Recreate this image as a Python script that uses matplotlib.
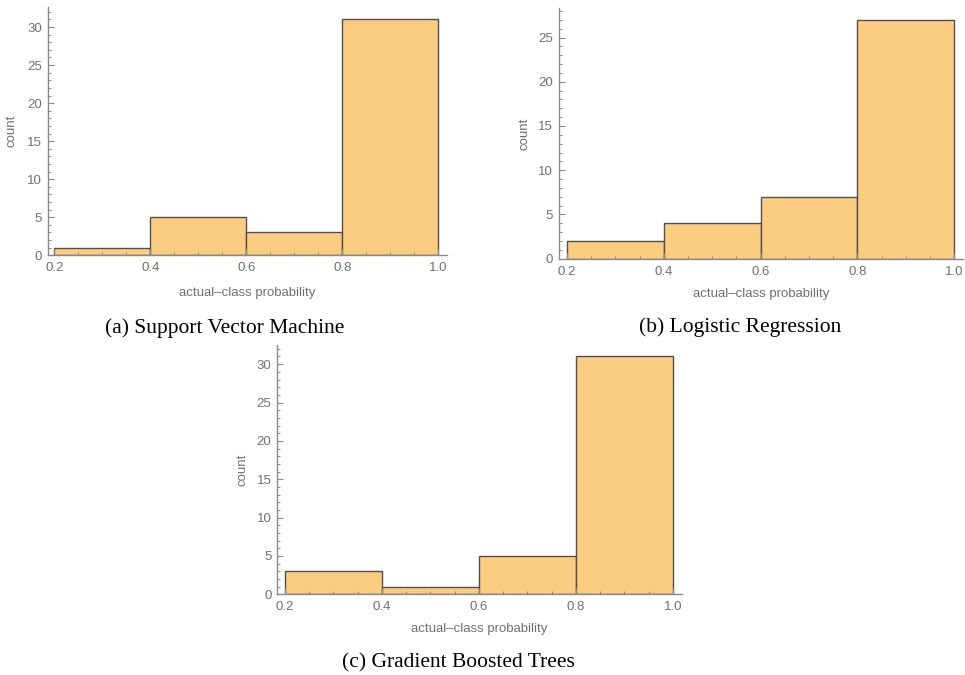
import matplotlib
matplotlib.use("Agg")
import matplotlib.pyplot as plt
from matplotlib.ticker import MultipleLocator, FixedLocator
from matplotlib.transforms import ScaledTranslation
import numpy as np

bin_edges = [0.2, 0.4, 0.6, 0.8, 1.0]
svm_counts = [1, 5, 3, 31]
logreg_counts = [2, 4, 7, 27]
gbt_counts = [3, 1, 5, 31]
x_ticks = [0.2, 0.4, 0.6, 0.8, 1.0]
x_tick_labels = ["0.2", "0.4", "0.6", "0.8", "1.0"]
captions = ["(a) Support Vector Machine", "(b) Logistic Regression", "(c) Gradient Boosted Trees"]

FILL = "#fbcd80"
EDGE = "#505050"
AXC = "#8a8a8a"
TXT = "#707070"

fig = plt.figure(figsize=(9.65, 6.75), dpi=100)

panels = [
    # rect, counts, xlim, ylim, ymajor, xlabel offset px, ylabel offset px
    ([0.0494, 0.6218, 0.4135, 0.3674], svm_counts, (0.186, 1.0175), (0, 32.6), 5, 38, 36),
    ([0.5790, 0.6167, 0.4187, 0.3710], logreg_counts, (0.1828, 1.018), (0, 28.3), 5, 35, 34),
    ([0.2870, 0.1196, 0.4194, 0.3693], gbt_counts, (0.1835, 1.018), (0, 32.5), 5, 35, 34),
]

for rect, counts, xl, yl, ym, xoff, yoff in panels:
    ax = fig.add_axes(rect)
    lefts = bin_edges[:-1]
    widths = np.diff(bin_edges)
    ax.bar(lefts, counts, width=widths, align="edge", color=FILL,
           edgecolor=EDGE, linewidth=1.0, zorder=1)
    ax.set_xlim(*xl)
    ax.set_ylim(*yl)
    for s in ["top", "right"]:
        ax.spines[s].set_visible(False)
    for s in ["left", "bottom"]:
        ax.spines[s].set_color(AXC)
        ax.spines[s].set_linewidth(1.0)
        ax.spines[s].set_zorder(3)
    ax.xaxis.set_major_locator(FixedLocator(x_ticks))
    ax.set_xticklabels(x_tick_labels)
    ax.xaxis.set_minor_locator(MultipleLocator(0.05))
    ax.yaxis.set_major_locator(MultipleLocator(ym))
    ax.yaxis.set_minor_locator(MultipleLocator(1))
    ax.tick_params(which="both", direction="in", color=AXC, labelcolor=TXT,
                   labelsize=9.5)
    ax.tick_params(which="major", length=4, width=0.8)
    ax.tick_params(which="minor", length=2.5, width=0.7)
    ax.tick_params(axis="x", pad=5)
    ax.tick_params(axis="y", pad=4)
    for lab in ax.get_xticklabels() + ax.get_yticklabels():
        lab.set_fontfamily("Liberation Sans")
    ax.text(0.5, 0, "actual\u2013class probability", color=TXT, fontsize=9.5,
            family="Liberation Sans", ha="center", va="center",
            transform=ax.transAxes + ScaledTranslation(0, -xoff / 100, fig.dpi_scale_trans))
    ax.text(0, 0.5, "count", color=TXT, fontsize=9.5, rotation=90,
            family="Liberation Sans", ha="center", va="center",
            transform=ax.transAxes + ScaledTranslation(-yoff / 100, 0, fig.dpi_scale_trans))

fig.text(225 / 965, 1 - 328 / 675, captions[0], ha="center", va="center",
         fontsize=15.5, family="Liberation Serif")
fig.text(740 / 965, 1 - 327 / 675, captions[1], ha="center", va="center",
         fontsize=15.5, family="Liberation Serif")
fig.text(458 / 965, 1 - 663 / 675, captions[2], ha="center", va="center",
         fontsize=15.5, family="Liberation Serif")

fig.savefig("out.png", dpi=100, facecolor="white")
